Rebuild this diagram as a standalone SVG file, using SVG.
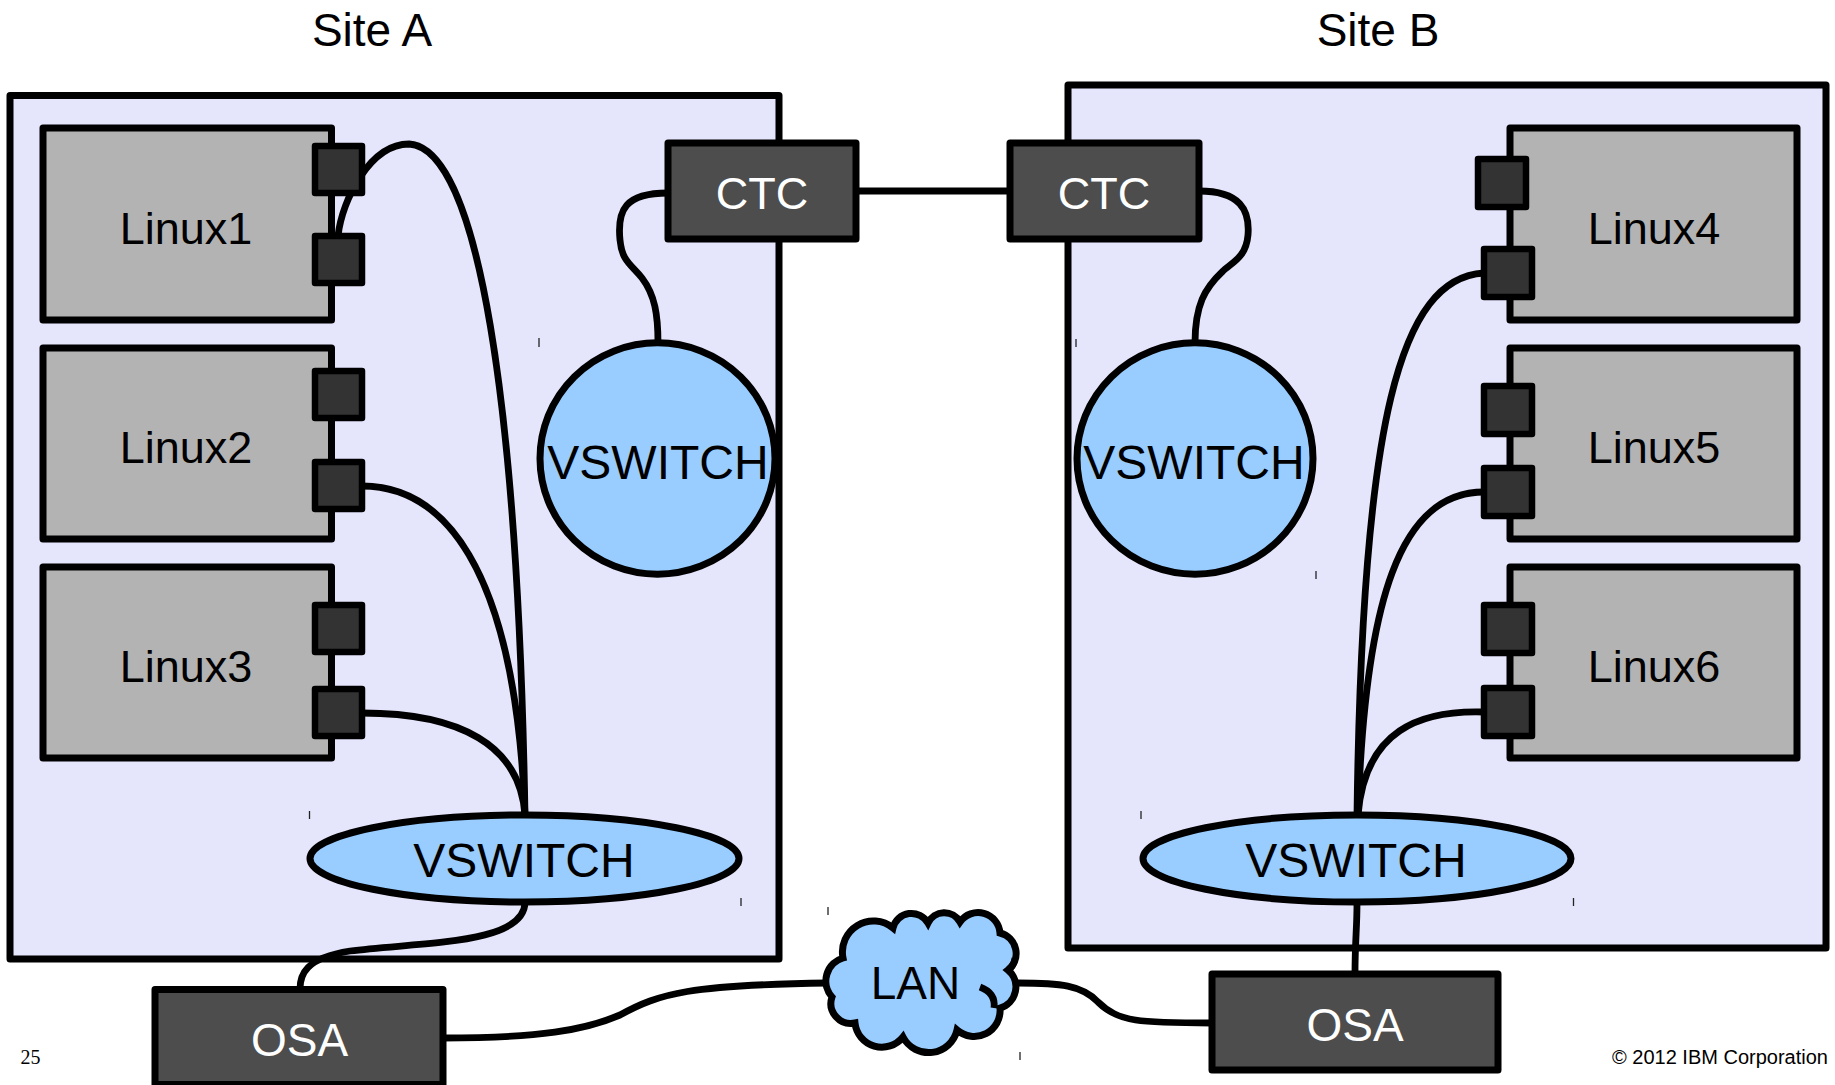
<svg xmlns="http://www.w3.org/2000/svg" width="1835" height="1085" viewBox="0 0 1835 1085">
<style>
.site{fill:#e5e5fc;stroke:#000;stroke-width:7;stroke-linejoin:round}
.linux{fill:#b3b3b3;stroke:#000;stroke-width:7;stroke-linejoin:round}
.port{fill:#333;stroke:#000;stroke-width:6.5;stroke-linejoin:round}
.dev{fill:#4d4d4d;stroke:#000;stroke-width:7;stroke-linejoin:round}
.vs{fill:#99ccff;stroke:#000;stroke-width:7}
.wire{fill:none;stroke:#000;stroke-width:6.8}
.tick{stroke:#222;stroke-width:1.3}
text{font-family:"Liberation Sans",Arial,sans-serif;text-anchor:middle}
.t46{font-size:46px;fill:#000}
.t45{font-size:45px;fill:#000}
.t48{font-size:48px;fill:#000}
.w{fill:#fff}
</style>

<g id="siteA">
<rect class="site" x="10" y="95.5" width="769" height="863.5"/>
<text class="t46" x="372" y="46">Site A</text>
</g>
<g id="siteB">
<rect class="site" x="1068" y="85" width="758" height="863"/>
<text class="t46" x="1378" y="46">Site B</text>
</g>

<g id="connectors">
<path class="wire" d="M856,191 L1010,191"/>
<path class="wire" d="M668,193 C625,193 617,210 620,240 C622,262 632,265 642,278 C655,295 658,315 658,343"/>
<path class="wire" d="M1199,191 C1240,191 1250,210 1248,235 C1246,258 1232,262 1222,272 C1205,288 1195,305 1195,343"/>
<path class="wire" d="M338,236 C342,200 370,144 409,144 C478,148 518,400 525,815"/>
<path class="wire" d="M362,486 C440,486 515,560 525,815"/>
<path class="wire" d="M362,713 C460,713 520,745 525,815"/>
<path class="wire" d="M525,902 C525,945 420,942 350,951 C305,958 300,975 300,989"/>
<path class="wire" d="M443,1038 C540,1038 585,1030 620,1015 C660,993 690,985 828,983"/>
<path class="wire" d="M1018,983 C1060,983 1082,985 1098,1002 C1118,1022 1140,1023 1212,1023"/>
<path class="wire" d="M1357,902 C1357,930 1355,940 1355,974"/>
<path class="wire" d="M1484,273 C1400,278 1362,420 1357,815"/>
<path class="wire" d="M1484,492 C1400,492 1365,600 1358,815"/>
<path class="wire" d="M1484,712 C1420,710 1365,730 1358,815"/>
</g>

<g id="linux1">
<rect class="linux" x="43" y="128" width="288.5" height="192"/>
<rect class="port" x="315" y="146" width="47" height="47"/>
<rect class="port" x="315" y="236" width="47" height="47"/>
<text class="t45" x="186" y="243.5">Linux1</text>
</g>
<g id="linux2">
<rect class="linux" x="43" y="348" width="288.5" height="191"/>
<rect class="port" x="315" y="371" width="47" height="47"/>
<rect class="port" x="315" y="462" width="47" height="47"/>
<text class="t45" x="186" y="462.5">Linux2</text>
</g>
<g id="linux3">
<rect class="linux" x="43" y="567" width="288.5" height="191"/>
<rect class="port" x="315" y="605" width="47" height="47"/>
<rect class="port" x="315" y="689" width="47" height="47"/>
<text class="t45" x="186" y="681.5">Linux3</text>
</g>
<g id="linux4">
<rect class="linux" x="1510" y="128" width="287" height="192"/>
<rect class="port" x="1478" y="159" width="48" height="48"/>
<rect class="port" x="1484" y="249" width="48" height="48"/>
<text class="t45" x="1654" y="243.5">Linux4</text>
</g>
<g id="linux5">
<rect class="linux" x="1510" y="348" width="287" height="191"/>
<rect class="port" x="1484" y="386" width="48" height="48"/>
<rect class="port" x="1484" y="468" width="48" height="48"/>
<text class="t45" x="1654" y="462.5">Linux5</text>
</g>
<g id="linux6">
<rect class="linux" x="1510" y="567" width="287" height="191"/>
<rect class="port" x="1484" y="605" width="48" height="48"/>
<rect class="port" x="1484" y="688" width="48" height="48"/>
<text class="t45" x="1654" y="681.5">Linux6</text>
</g>

<g id="vswitchA1">
<ellipse class="vs" cx="657.5" cy="458.5" rx="117.5" ry="115.7"/>
<text class="t48" x="658" y="478.5">VSWITCH</text>
</g>
<g id="vswitchB1">
<ellipse class="vs" cx="1195" cy="458.5" rx="118" ry="115.7"/>
<text class="t48" x="1194" y="478.5">VSWITCH</text>
</g>
<g id="vswitchA2">
<ellipse class="vs" cx="524.5" cy="858.5" rx="214.5" ry="43.5"/>
<text class="t48" x="524" y="876.5">VSWITCH</text>
</g>
<g id="vswitchB2">
<ellipse class="vs" cx="1357" cy="858.5" rx="214" ry="43.5"/>
<text class="t48" x="1356" y="876.5">VSWITCH</text>
</g>

<g id="ctcA">
<rect class="dev" x="668" y="143" width="188" height="96"/>
<text class="t45 w" x="762" y="208.5">CTC</text>
</g>
<g id="ctcB">
<rect class="dev" x="1010" y="143" width="189" height="96"/>
<text class="t45 w" x="1104" y="208.5">CTC</text>
</g>
<g id="osaA">
<rect class="dev" x="155" y="989.5" width="288" height="95"/>
<text class="t46 w" x="299.5" y="1056">OSA</text>
</g>
<g id="osaB">
<rect class="dev" x="1212" y="974" width="286" height="96"/>
<text class="t46 w" x="1355" y="1040.5">OSA</text>
</g>

<g id="lan">
<path class="vs" d="M832,997 A24 24 0 0 1 843,958 A31 31 0 0 1 893,928 A19 19 0 0 1 928,923 A18 18 0 0 1 960,922 A22 22 0 0 1 1000,933 A21 21 0 0 1 1008,970 A22 22 0 0 1 1000,1008 A26 26 0 0 1 957,1030 A29 29 0 0 1 903,1037 A27 27 0 0 1 855,1023 A20 20 0 0 1 832,997 Z"/>
<path class="wire" d="M980,987 Q996,993 994,1008"/>
<path class="wire" d="M1008,970 Q1014,966 1015,958"/>
<text class="t46" x="915.5" y="998.5">LAN</text>
</g>

<g id="ticks">
<line class="tick" x1="539" y1="338" x2="539" y2="347"/>
<line class="tick" x1="309.5" y1="811" x2="309.5" y2="819"/>
<line class="tick" x1="741" y1="898" x2="741" y2="906"/>
<line class="tick" x1="828" y1="907" x2="828" y2="915"/>
<line class="tick" x1="1020" y1="1052" x2="1020" y2="1060"/>
<line class="tick" x1="1076" y1="339" x2="1076" y2="347"/>
<line class="tick" x1="1316" y1="571" x2="1316" y2="579"/>
<line class="tick" x1="1141" y1="811" x2="1141" y2="819"/>
<line class="tick" x1="1573.5" y1="898" x2="1573.5" y2="906"/>
</g>

<g id="footer">
<text x="30.5" y="1063.5" style="font-family:'Liberation Serif','Times New Roman',serif;font-size:20px">25</text>
<text x="1612" y="1063.5" style="font-size:20px;text-anchor:start">© 2012 IBM Corporation</text>
</g>
</svg>
